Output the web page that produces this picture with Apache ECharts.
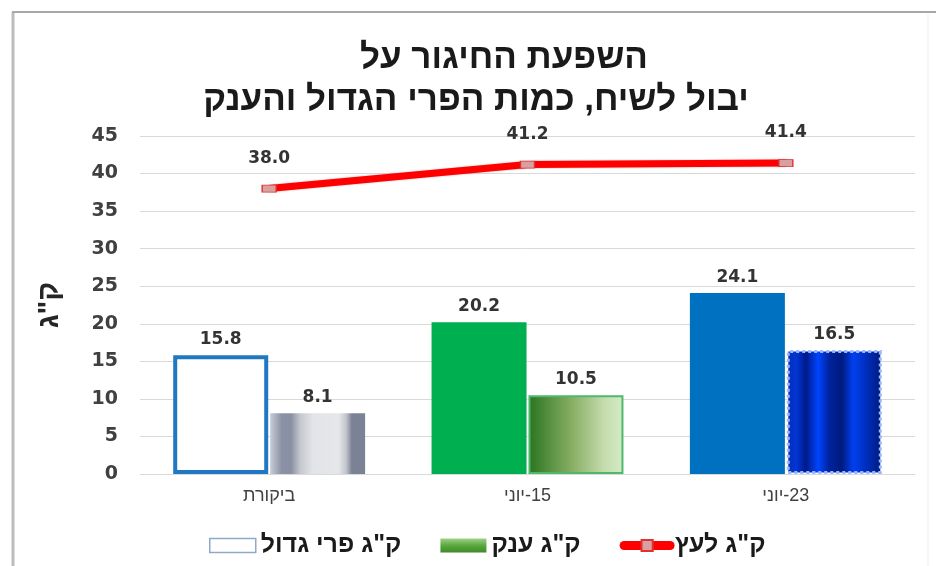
<!DOCTYPE html>
<html>
<head>
<meta charset="utf-8">
<script src="https://cdn.jsdelivr.net/npm/echarts@6/dist/echarts.min.js"></script>
<style>
html,body{margin:0;padding:0;background:#fff;}
#chart{width:936px;height:566px;}
</style>
</head>
<body>
<div id="chart"></div>
<script>
// ---- data ----
const titleLine1 = 'השפעת החיגור על';
const titleLine2 = 'יבול לשיח, כמות הפרי הגדול והענק';
const yAxisName = 'ק"ג';
const categories = ['ביקורת', '15-יוני', '23-יוני'];
const seriesNames = ['ק"ג פרי גדול', 'ק"ג ענק', 'ק"ג לעץ'];
const largeFruit = [15.8, 20.2, 24.1];
const giantFruit = [8.1, 10.5, 16.5];
const perTree = [38.0, 41.2, 41.4];
const yTicks = { min: 0, max: 45, interval: 5 };

// ---- styles ----
const lg = (stops) => ({ type: 'linear', x: 0, y: 0, x2: 1, y2: 0,
  colorStops: stops.map(s => ({ offset: s[0], color: s[1] })) });

const largeStyles = [
  { color: '#ffffff', borderColor: '#1f78c1', borderWidth: 4 },
  { color: '#00b050' },
  { color: '#0070c0' }
];
const giantStyles = [
  { color: lg([[0, '#c9cdd6'], [0.12, '#8c92a6'], [0.22, '#8a90a2'], [0.32, '#c6c9d0'], [0.45, '#e3e4e7'], [0.72, '#e6e7ea'], [0.8, '#c2c5cc'], [0.86, '#7c8296'], [1, '#7c8296']]) },
  { color: lg([[0, '#2a7420'], [0.45, '#86ad62'], [0.8, '#c6dcae'], [1, '#d4ecc6']]), borderColor: '#4cba6c', borderWidth: 2 },
  { color: lg([[0, '#0a2cb0'], [0.1, '#0036d6'], [0.2, '#001a8a'], [0.33, '#0044ff'], [0.45, '#00229c'], [0.58, '#001a80'], [0.7, '#0040f0'], [0.82, '#0030c4'], [1, '#001a7c']]),
    borderColor: '#9ab8ff', borderWidth: 3, borderType: 'dotted' }
];

const labelFont = { fontFamily: 'DejaVu Sans', fontWeight: 'bold', fontSize: 17, color: '#333333' };

const chart = echarts.init(document.getElementById('chart'));
chart.setOption({
  animation: false,
  backgroundColor: '#ffffff',
  graphic: [
    { type: 'line', shape: { x1: 13, y1: 12, x2: 13, y2: 566 }, style: { stroke: '#bdbdbd', lineWidth: 3 } },
    { type: 'line', shape: { x1: 12, y1: 12, x2: 936, y2: 12 }, style: { stroke: '#a8a8a8', lineWidth: 2 } },
    { type: 'line', shape: { x1: 928, y1: 14, x2: 928, y2: 566 }, style: { stroke: '#eeeeee', lineWidth: 1 } },
    { type: 'text', x: 504, y: 58, style: { text: titleLine1, align: 'center', verticalAlign: 'middle',
      font: 'bold 35px "Liberation Sans"', fill: '#1a1a1a' } },
    { type: 'text', x: 476, y: 100, style: { text: titleLine2, align: 'center', verticalAlign: 'middle',
      font: 'bold 35px "Liberation Sans"', fill: '#1a1a1a' } }
  ],
  grid: { left: 140, right: 21, top: 136, bottom: 92 },
  legend: {
    left: 204, top: 528,
    itemGap: 39, itemWidth: 46, itemHeight: 14,
    textStyle: { fontFamily: 'Liberation Sans', fontWeight: 'bold', fontSize: 25, color: '#1a1a1a' },
    data: [
      { name: seriesNames[0], icon: 'rect', itemStyle: { color: '#ffffff', borderColor: '#8eaac8', borderWidth: 1.5 } },
      { name: seriesNames[1], icon: 'rect', itemStyle: { color: { type: 'linear', x: 0, y: 0, x2: 0, y2: 1,
        colorStops: [{ offset: 0, color: '#9fd08a' }, { offset: 0.5, color: '#5aa83e' }, { offset: 1, color: '#3f8a2a' }] } } },
      { name: seriesNames[2], lineStyle: { width: 9, color: '#ff0000', cap: 'round' } }
    ]
  },
  xAxis: {
    type: 'category',
    data: categories,
    axisLine: { show: true, lineStyle: { color: '#d9d9d9', width: 1 } },
    axisTick: { show: false },
    axisLabel: { margin: 13, fontFamily: 'Liberation Sans', fontSize: 18, color: '#404040',
      formatter: v => v.replace(/^(\d+)-(.+)$/, '$2\u200E-$1') }
  },
  yAxis: {
    type: 'value',
    min: yTicks.min, max: yTicks.max, interval: yTicks.interval,
    name: yAxisName, nameLocation: 'middle', nameGap: 76, nameRotate: 90,
    nameTextStyle: { fontFamily: 'Liberation Sans', fontWeight: 'bold', fontSize: 29, color: '#262626' },
    axisLine: { show: false },
    axisTick: { show: false },
    axisLabel: { margin: 22, fontFamily: 'DejaVu Sans', fontWeight: 'bold', fontSize: 19, color: '#404040' },
    splitLine: { lineStyle: { color: '#d9d9d9', width: 1 } }
  },
  series: [
    {
      name: seriesNames[0], type: 'bar', barWidth: 95, barGap: '2%',
      data: largeFruit.map((v, i) => ({ value: v, itemStyle: largeStyles[i] })),
      label: Object.assign({ show: true, position: 'top', distance: 7, formatter: p => p.value.toFixed(1) }, labelFont)
    },
    {
      name: seriesNames[1], type: 'bar', barWidth: 95,
      itemStyle: { color: '#5aa83e' },
      data: giantFruit.map((v, i) => ({ value: v, itemStyle: giantStyles[i] })),
      label: Object.assign({ show: true, position: 'top', distance: 7, formatter: p => p.value.toFixed(1) }, labelFont)
    },
    {
      name: seriesNames[2], type: 'line', data: perTree,
      symbol: 'rect', symbolSize: [14, 7], showAllSymbol: true,
      lineStyle: { color: '#ff0000', width: 7, shadowColor: 'rgba(150,0,0,0.35)', shadowBlur: 2 },
      itemStyle: { color: '#d9a0a0', borderColor: '#e03030', borderWidth: 1 },
      label: Object.assign({ show: true, position: 'top', distance: 18, formatter: p => p.value.toFixed(1) }, labelFont),
      z: 5
    }
  ]
});
</script>
</body>
</html>
